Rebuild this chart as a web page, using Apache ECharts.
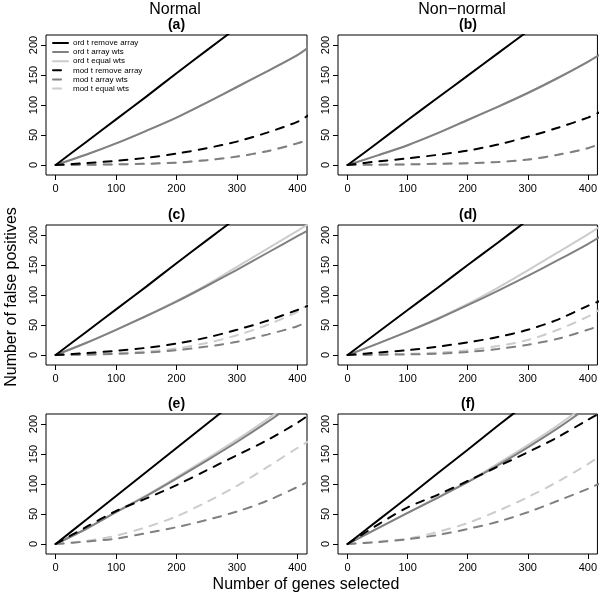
<!DOCTYPE html>
<html>
<head>
<meta charset="utf-8">
<script src="https://cdn.jsdelivr.net/npm/echarts@6/dist/echarts.min.js"></script>
<style>html,body{margin:0;padding:0;background:#fff}#c{width:600px;height:600px}</style>
</head>
<body>
<div id="c"></div>
<script>
// ---- data ----
const xs = [0, 50, 100, 150, 200, 250, 300, 350, 400, 420];
const seriesNames = ['ord t remove array', 'ord t array wts', 'ord t equal wts',
                     'mod t remove array', 'mod t array wts', 'mod t equal wts'];
const xTicks = [0, 100, 200, 300, 400];
const yTicks = [0, 50, 100, 150, 200];
const panelLabels = ['(a)', '(b)', '(c)', '(d)', '(e)', '(f)'];
const columnTitles = ['Normal', 'Non\u2212normal'];
const xTitle = 'Number of genes selected';
const yTitle = 'Number of false positives';

// (a) Normal
const a_ordRemove = [0, 38, 76, 114, 153, 191, 229, 267, 305, 320];
const a_ordArray  = [0, 17, 36, 57, 79, 104, 130, 156, 183, 197];
const a_ordEqual  = [0, 17, 36, 57, 79, 104, 130, 156, 183, 197];
const a_modRemove = [0, 3, 7, 12, 19, 28, 39, 54, 72, 84];
const a_modArray  = [0, 0.3, 1, 2, 4, 8, 14, 23, 36, 43];
const a_modEqual  = [0, 0.3, 1, 2, 4, 8, 14, 23, 36, 43];
// (b) Non-normal
const b_ordRemove = [0, 37, 75, 112, 149, 186, 223, 260, 297, 312];
const b_ordArray  = [0, 16, 33, 53, 75, 97, 120, 145, 172, 184];
const b_ordEqual  = [0, 16, 33, 53, 75, 97, 120, 145, 172, 184];
const b_modRemove = [0, 6, 11, 17, 24, 34, 47, 62, 79, 88];
const b_modArray  = [0, 0.5, 1, 2, 3, 5, 9, 17, 28, 35];
const b_modEqual  = [0, 0.5, 1, 2, 3, 5, 9, 17, 28, 35];
// (c) Normal
const c_ordRemove = [0, 38, 76, 114, 153, 191, 229, 267, 305, 320];
const c_ordArray  = [0, 20, 42, 65, 89, 115, 142, 170, 198, 209];
const c_ordEqual  = [0, 20, 42, 65, 90, 117, 147, 177, 207, 219];
const c_modRemove = [0, 3, 7, 12, 19, 29, 42, 57, 75, 83];
const c_modArray  = [0, 0.5, 2, 4, 8, 14, 22, 34, 48, 57];
const c_modEqual  = [0, 1, 3, 6, 11, 20, 33, 50, 72, 85];
// (d) Non-normal
const d_ordRemove = [0, 37.5, 75, 112, 150, 187, 225, 262, 300, 315];
const d_ordArray  = [0, 19, 39, 60, 83, 107, 132, 158, 185, 197];
const d_ordEqual  = [0, 19, 39, 61, 85, 112, 141, 171, 201, 214];
const d_modRemove = [0, 4, 8, 14, 21, 30, 42, 59, 82, 90];
const d_modArray  = [0, 0.5, 1, 2, 5, 10, 17, 27, 42, 49];
const d_modEqual  = [0, 1, 2, 4, 8, 15, 25, 42, 64, 76];
// (e) Normal
const e_ordRemove = [0, 40, 80, 120, 160, 200, 240, 280, 320, 336];
const e_ordArray  = [0, 25, 53, 80, 109, 139, 170, 203, 238, 252];
const e_ordEqual  = [0, 25, 54, 81, 111, 142, 174, 208, 243, 257];
const e_modRemove = [0, 28, 55, 76, 98, 123, 148, 173, 202, 216];
const e_modArray  = [0, 4, 9, 18, 28, 40, 54, 72, 95, 105];
const e_modEqual  = [0, 5, 14, 28, 46, 70, 97, 128, 160, 172];
// (f) Non-normal
const f_ordRemove = [0, 39, 78, 118, 157, 197, 236, 276, 315, 331];
const f_ordArray  = [0, 26, 52, 77, 103, 131, 161, 193, 228, 243];
const f_ordEqual  = [0, 26, 52, 78, 104, 134, 165, 198, 234, 250];
const f_modRemove = [0, 32, 61, 82, 105, 129, 153, 178, 207, 218];
const f_modArray  = [0, 3, 8, 15, 25, 37, 53, 72, 92, 101];
const f_modEqual  = [0, 4, 9, 20, 35, 55, 78, 104, 133, 147];

const panels = [
  [a_ordRemove, a_ordArray, a_ordEqual, a_modRemove, a_modArray, a_modEqual],
  [b_ordRemove, b_ordArray, b_ordEqual, b_modRemove, b_modArray, b_modEqual],
  [c_ordRemove, c_ordArray, c_ordEqual, c_modRemove, c_modArray, c_modEqual],
  [d_ordRemove, d_ordArray, d_ordEqual, d_modRemove, d_modArray, d_modEqual],
  [e_ordRemove, e_ordArray, e_ordEqual, e_modRemove, e_modArray, e_modEqual],
  [f_ordRemove, f_ordArray, f_ordEqual, f_modRemove, f_modArray, f_modEqual]
];

// ---- layout / style ----
const FONT = '"Liberation Sans", Arial, Helvetica, sans-serif';
const colLeft = [46, 338], colWidth = [261, 260];
const rowTop = [35, 225, 414], rowHeight = 140;
const styles = [
  {color: '#000000', dash: 'solid', z: 4},
  {color: '#808080', dash: 'solid', z: 3},
  {color: '#cccccc', dash: 'solid', z: 2},
  {color: '#000000', dash: [8, 8], z: 4},
  {color: '#808080', dash: [8, 8], z: 3},
  {color: '#cccccc', dash: [8, 8], z: 2}
];

const grids = [], xAxes = [], yAxes = [], series = [], graphics = [];
panels.forEach((p, i) => {
  const r = Math.floor(i / 2), c = i % 2;
  grids.push({left: colLeft[c], top: rowTop[r], width: colWidth[c], height: rowHeight,
    show: true, borderColor: '#000', borderWidth: 1, backgroundColor: 'transparent'});
  xAxes.push({gridIndex: i, type: 'value', min: -16, max: 416,
    axisLine: {show: false, onZero: false},
    axisTick: {show: true, length: 5, customValues: xTicks, lineStyle: {color: '#000', width: 1}},
    axisLabel: {customValues: xTicks, color: '#000', fontSize: 11, fontFamily: FONT, margin: 8},
    splitLine: {show: false}});
  yAxes.push({gridIndex: i, type: 'value', min: -16.67, max: 216.67,
    axisLine: {show: false, onZero: false},
    axisTick: {show: true, length: 5, customValues: yTicks, lineStyle: {color: '#000', width: 1}},
    axisLabel: {customValues: yTicks, color: '#000', fontSize: 11, fontFamily: FONT, margin: 7, rotate: 90},
    splitLine: {show: false}});
  p.forEach((vals, k) => {
    const st = styles[k];
    series.push({type: 'line', name: seriesNames[k], xAxisIndex: i, yAxisIndex: i,
      data: xs.map((x, j) => [x, vals[j]]),
      symbol: 'none', smooth: 0.3, clip: true, z: st.z, silent: true,
      lineStyle: {color: st.color, width: 2, type: st.dash, cap: 'round'},
      itemStyle: {color: st.color}});
  });
  graphics.push({type: 'text', x: colLeft[c] + colWidth[c] / 2, y: rowTop[r] - 10,
    style: {text: panelLabels[i], font: 'bold 14px ' + FONT, fill: '#000',
      textAlign: 'center', textVerticalAlign: 'middle'}});
});
graphics.push({type: 'text', x: 175, y: 10,
  style: {text: columnTitles[0], font: '16px ' + FONT, fill: '#000', textAlign: 'center', textVerticalAlign: 'middle'}});
graphics.push({type: 'text', x: 462, y: 10,
  style: {text: columnTitles[1], font: '16px ' + FONT, fill: '#000', textAlign: 'center', textVerticalAlign: 'middle'}});
graphics.push({type: 'text', x: 306, y: 585,
  style: {text: xTitle, font: '16px ' + FONT, fill: '#000', textAlign: 'center', textVerticalAlign: 'middle'}});
graphics.push({type: 'text', x: 12, y: 297, rotation: Math.PI / 2,
  style: {text: yTitle, font: '16px ' + FONT, fill: '#000', textAlign: 'center', textVerticalAlign: 'middle'}});

const chart = echarts.init(document.getElementById('c'), null, {renderer: 'canvas'});
chart.setOption({
  animation: false,
  backgroundColor: '#fff',
  legend: {data: seriesNames, orient: 'vertical', left: 52, top: 39, padding: 0,
    itemWidth: 15, itemHeight: 8, itemGap: 1.1, selectedMode: false,
    itemStyle: {color: 'rgba(0,0,0,0)', borderWidth: 0, opacity: 0},
    textStyle: {fontSize: 8, fontFamily: FONT, color: '#000', lineHeight: 8}},
  grid: grids, xAxis: xAxes, yAxis: yAxes, series: series, graphic: graphics
});
</script>
</body>
</html>
